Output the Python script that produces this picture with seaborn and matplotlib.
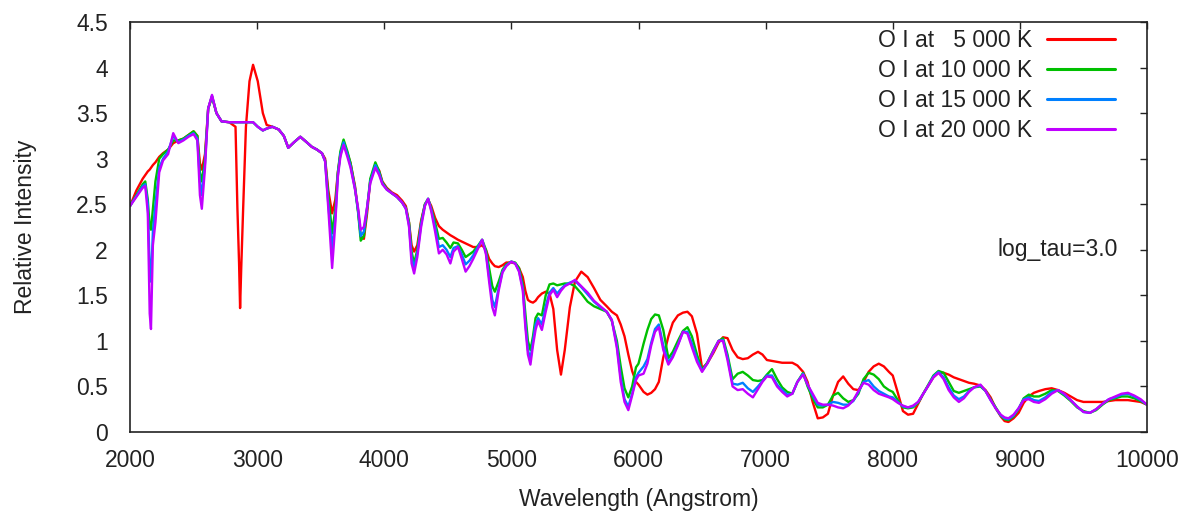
import numpy as np
import pandas as pd
import matplotlib
matplotlib.use("Agg")
import matplotlib.pyplot as plt
import seaborn as sns

# ---------------- data ----------------
wavelength = [
    # 2000-3100
    2000, 2050, 2100, 2120, 2140, 2155, 2165, 2180, 2200, 2230, 2260, 2300, 2340, 2380, 2420, 2460, 2500, 2530, 2550,
    2565, 2590, 2615, 2645, 2680, 2720, 2780, 2830, 2845, 2858, 2866, 2875, 2890, 2912, 2940, 2968, 3005, 3045, 3075,
    # 3100-4100
    3120, 3170, 3210, 3245, 3290, 3340, 3390, 3430, 3470, 3510, 3535, 3560, 3590, 3615, 3635, 3655, 3680, 3710, 3735,
    3770, 3795, 3815, 3840, 3865, 3890, 3930, 3960, 3985, 4020, 4060,
    # 4100-5000
    4100, 4140, 4170, 4195, 4215, 4235, 4260, 4290, 4320, 4345, 4370, 4400, 4430, 4460, 4490, 4520, 4545, 4580, 4610,
    4640, 4670, 4700, 4740, 4770, 4800, 4825, 4850, 4870, 4900, 4930, 4960,
    # 5000-6000
    5000, 5030, 5060, 5090, 5110, 5130, 5150, 5170, 5190, 5210, 5240, 5270, 5300, 5330, 5360, 5390, 5420, 5460, 5500,
    5550, 5600, 5650, 5700, 5750, 5790, 5830, 5860, 5890, 5920, 5950, 5980,
    # 6000-8000
    6000, 6040, 6070, 6100, 6130, 6160, 6195, 6235, 6270, 6310, 6350, 6385, 6420, 6460, 6500, 6540, 6590, 6630, 6665,
    6700, 6740, 6780, 6820, 6860, 6900, 6940, 6975, 7010, 7050, 7090, 7130, 7170, 7210, 7250, 7295, 7330, 7370, 7410,
    7450, 7490, 7530, 7570, 7610, 7650, 7690, 7730, 7770, 7810, 7850, 7890, 7930, 7970,
    # 8000-10000
    8000, 8040, 8080, 8120, 8160, 8200, 8240, 8280, 8320, 8360, 8400, 8440, 8480, 8520, 8560, 8600, 8640, 8690, 8730,
    8770, 8810, 8850, 8880, 8910, 8950, 8990, 9030, 9070, 9110, 9150, 9200, 9250, 9300, 9350, 9400, 9450, 9500, 9550,
    9600, 9650, 9700, 9750, 9800, 9850, 9900, 9950, 10000,
]

intensity_5000K = [
    2.48, 2.65, 2.78, 2.82, 2.86, 2.88, 2.90, 2.93, 2.96, 3.02, 3.06, 3.10, 3.17, 3.20, 3.22, 3.26, 3.30, 3.25, 2.95,
    2.88, 3.05, 3.55, 3.68, 3.50, 3.41, 3.40, 3.35, 2.45, 1.85, 1.36, 1.80, 2.45, 3.35, 3.85, 4.03, 3.85, 3.50, 3.37,
    3.35, 3.32, 3.25, 3.12, 3.18, 3.24, 3.18, 3.13, 3.10, 3.06, 3.00, 2.65, 2.40, 2.55, 2.85, 3.05, 3.17, 3.06, 2.95,
    2.70, 2.42, 2.15, 2.12, 2.40, 2.76, 2.93, 2.87, 2.75, 2.68, 2.63,
    2.60, 2.54, 2.48, 2.30, 2.05, 1.98, 2.05, 2.32, 2.50, 2.55, 2.48, 2.35, 2.26, 2.22, 2.19, 2.16, 2.14, 2.11, 2.09,
    2.07, 2.05, 2.03, 2.03, 2.05, 2.00, 1.90, 1.85, 1.82, 1.81, 1.83, 1.86,
    1.86, 1.85, 1.80, 1.70, 1.55, 1.45, 1.43, 1.42, 1.44, 1.48, 1.52, 1.54, 1.52, 1.35, 0.90, 0.63, 0.90, 1.37, 1.65,
    1.76, 1.70, 1.58, 1.45, 1.38, 1.32, 1.28, 1.18, 1.05, 0.85, 0.67, 0.55,
    0.52, 0.44, 0.41, 0.43, 0.47, 0.55, 0.82, 1.05, 1.20, 1.28, 1.31, 1.32, 1.27, 1.08, 0.70, 0.75, 0.87, 0.98, 1.04,
    1.03, 0.90, 0.82, 0.80, 0.81, 0.85, 0.88, 0.85, 0.79, 0.78, 0.77, 0.76, 0.76, 0.76, 0.73, 0.66, 0.55, 0.33, 0.15,
    0.16, 0.20, 0.40, 0.55, 0.61, 0.53, 0.47, 0.46, 0.55, 0.66, 0.72, 0.75, 0.72, 0.66,
    0.62, 0.43, 0.23, 0.19, 0.20, 0.31, 0.42, 0.51, 0.60, 0.65, 0.65, 0.63, 0.60, 0.58, 0.56, 0.54, 0.53, 0.51, 0.46,
    0.38, 0.26, 0.17, 0.12, 0.11, 0.15, 0.21, 0.32, 0.39, 0.43, 0.45, 0.47, 0.48, 0.46, 0.43, 0.39, 0.35, 0.33, 0.33,
    0.33, 0.33, 0.34, 0.35, 0.35, 0.35, 0.34, 0.33, 0.30,
]

intensity_10000K = [
    2.48, 2.60, 2.72, 2.75, 2.55, 2.25, 2.22, 2.45, 2.75, 3.00, 3.05, 3.10, 3.20, 3.20, 3.22, 3.26, 3.30, 3.25, 2.85,
    2.75, 3.00, 3.55, 3.68, 3.50, 3.41, 3.40, 3.40, 3.40, 3.40, 3.40, 3.40, 3.40, 3.40, 3.40, 3.40, 3.35, 3.31, 3.33,
    3.35, 3.32, 3.25, 3.12, 3.18, 3.24, 3.18, 3.13, 3.10, 3.06, 2.98, 2.60, 2.18, 2.45, 2.85, 3.08, 3.21, 3.08, 2.95,
    2.68, 2.40, 2.10, 2.15, 2.45, 2.78, 2.96, 2.86, 2.74, 2.67, 2.62,
    2.58, 2.52, 2.46, 2.30, 1.98, 1.85, 2.00, 2.30, 2.50, 2.56, 2.45, 2.30, 2.12, 2.13, 2.08, 2.02, 2.08, 2.07, 2.00,
    1.92, 1.95, 1.98, 2.05, 2.11, 2.00, 1.80, 1.60, 1.54, 1.65, 1.78, 1.84,
    1.87, 1.86, 1.80, 1.62, 1.30, 1.00, 0.90, 1.05, 1.25, 1.30, 1.28, 1.50, 1.62, 1.63, 1.61, 1.62, 1.63, 1.63, 1.60,
    1.52, 1.43, 1.38, 1.35, 1.32, 1.22, 1.00, 0.72, 0.48, 0.38, 0.50, 0.71,
    0.75, 0.97, 1.12, 1.24, 1.29, 1.28, 1.12, 0.81, 0.88, 1.00, 1.11, 1.15, 1.05, 0.85, 0.68, 0.76, 0.90, 1.00, 1.03,
    0.85, 0.58, 0.64, 0.66, 0.62, 0.57, 0.56, 0.57, 0.63, 0.69, 0.58, 0.49, 0.44, 0.42, 0.55, 0.65, 0.50, 0.37, 0.27,
    0.27, 0.30, 0.40, 0.43, 0.37, 0.33, 0.35, 0.42, 0.58, 0.65, 0.63, 0.58, 0.50, 0.46,
    0.44, 0.35, 0.27, 0.26, 0.27, 0.32, 0.42, 0.52, 0.62, 0.67, 0.65, 0.55, 0.45, 0.43, 0.45, 0.47, 0.49, 0.50, 0.45,
    0.36, 0.27, 0.18, 0.14, 0.13, 0.17, 0.25, 0.37, 0.41, 0.39, 0.39, 0.42, 0.46, 0.45, 0.40, 0.34, 0.27, 0.23, 0.21,
    0.24, 0.30, 0.35, 0.37, 0.39, 0.39, 0.37, 0.34, 0.30,
]

intensity_15000K = [
    2.48, 2.59, 2.70, 2.72, 2.50, 1.80, 1.65, 2.20, 2.50, 2.90, 3.00, 3.08, 3.25, 3.18, 3.21, 3.25, 3.28, 3.22, 2.75,
    2.60, 2.95, 3.55, 3.69, 3.50, 3.41, 3.40, 3.40, 3.40, 3.40, 3.40, 3.40, 3.40, 3.40, 3.40, 3.40, 3.35, 3.31, 3.33,
    3.35, 3.32, 3.25, 3.12, 3.18, 3.24, 3.18, 3.13, 3.10, 3.06, 2.97, 2.50, 2.00, 2.35, 2.82, 3.05, 3.18, 3.05, 2.92,
    2.67, 2.42, 2.15, 2.20, 2.46, 2.75, 2.93, 2.84, 2.73, 2.66, 2.62,
    2.58, 2.52, 2.45, 2.27, 1.92, 1.80, 1.96, 2.28, 2.49, 2.56, 2.44, 2.25, 2.03, 2.05, 2.00, 1.92, 2.02, 2.04, 1.95,
    1.84, 1.88, 1.94, 2.04, 2.11, 1.97, 1.70, 1.45, 1.37, 1.58, 1.76, 1.83,
    1.87, 1.85, 1.77, 1.58, 1.20, 0.90, 0.80, 1.00, 1.18, 1.25, 1.18, 1.38, 1.53, 1.58, 1.52, 1.57, 1.61, 1.64, 1.66,
    1.59, 1.51, 1.43, 1.37, 1.32, 1.23, 0.95, 0.60, 0.36, 0.28, 0.42, 0.60,
    0.65, 0.72, 0.80, 0.98, 1.13, 1.18, 0.95, 0.76, 0.84, 0.96, 1.10, 1.10, 0.97, 0.80, 0.67, 0.75, 0.89, 1.00, 1.01,
    0.82, 0.53, 0.52, 0.54, 0.48, 0.44, 0.50, 0.56, 0.62, 0.62, 0.52, 0.46, 0.41, 0.42, 0.55, 0.64, 0.52, 0.40, 0.30,
    0.29, 0.30, 0.33, 0.32, 0.30, 0.30, 0.34, 0.44, 0.55, 0.57, 0.50, 0.45, 0.42, 0.39,
    0.38, 0.33, 0.28, 0.27, 0.28, 0.33, 0.42, 0.51, 0.61, 0.66, 0.60, 0.49, 0.40, 0.36, 0.39, 0.45, 0.49, 0.51, 0.45,
    0.35, 0.26, 0.18, 0.15, 0.14, 0.18, 0.26, 0.36, 0.38, 0.35, 0.34, 0.38, 0.44, 0.46, 0.41, 0.35, 0.28, 0.22, 0.21,
    0.25, 0.31, 0.36, 0.38, 0.41, 0.42, 0.39, 0.35, 0.30,
]

intensity_20000K = [
    2.48, 2.58, 2.68, 2.70, 2.40, 1.30, 1.13, 2.05, 2.30, 2.85, 2.98, 3.05, 3.28, 3.17, 3.20, 3.24, 3.27, 3.20, 2.60,
    2.45, 2.90, 3.55, 3.70, 3.50, 3.41, 3.40, 3.40, 3.40, 3.40, 3.40, 3.40, 3.40, 3.40, 3.40, 3.40, 3.35, 3.31, 3.33,
    3.35, 3.32, 3.25, 3.12, 3.18, 3.24, 3.18, 3.13, 3.10, 3.06, 2.97, 2.45, 1.80, 2.29, 2.80, 3.02, 3.15, 3.02, 2.90,
    2.66, 2.45, 2.22, 2.25, 2.47, 2.73, 2.90, 2.82, 2.72, 2.66, 2.62,
    2.58, 2.52, 2.45, 2.25, 1.85, 1.74, 1.92, 2.25, 2.48, 2.56, 2.42, 2.20, 1.96, 2.00, 1.95, 1.85, 1.98, 2.03, 1.90,
    1.76, 1.82, 1.90, 2.02, 2.11, 1.95, 1.65, 1.37, 1.28, 1.55, 1.75, 1.82,
    1.87, 1.85, 1.76, 1.55, 1.15, 0.85, 0.74, 0.95, 1.12, 1.22, 1.12, 1.32, 1.50, 1.56, 1.48, 1.55, 1.60, 1.63, 1.67,
    1.60, 1.53, 1.44, 1.38, 1.32, 1.23, 0.92, 0.55, 0.33, 0.24, 0.40, 0.57,
    0.62, 0.64, 0.75, 0.95, 1.10, 1.15, 0.90, 0.74, 0.82, 0.95, 1.10, 1.08, 0.93, 0.77, 0.66, 0.75, 0.89, 1.00, 1.00,
    0.79, 0.50, 0.46, 0.47, 0.42, 0.38, 0.47, 0.55, 0.61, 0.60, 0.50, 0.44, 0.39, 0.42, 0.55, 0.63, 0.52, 0.42, 0.32,
    0.30, 0.30, 0.29, 0.27, 0.26, 0.29, 0.35, 0.45, 0.54, 0.52, 0.46, 0.42, 0.40, 0.38,
    0.36, 0.32, 0.29, 0.27, 0.29, 0.33, 0.42, 0.51, 0.60, 0.65, 0.58, 0.46, 0.38, 0.33, 0.37, 0.44, 0.49, 0.52, 0.45,
    0.35, 0.26, 0.19, 0.16, 0.15, 0.19, 0.26, 0.35, 0.36, 0.33, 0.32, 0.36, 0.42, 0.46, 0.42, 0.35, 0.28, 0.22, 0.21,
    0.25, 0.31, 0.36, 0.39, 0.42, 0.43, 0.40, 0.36, 0.30,
]

series_labels = ["O I at \u20075 000 K", "O I at 10 000 K", "O I at 15 000 K", "O I at 20 000 K"]
series_colors = ["#ff0000", "#00c000", "#0080ff", "#c000ff"]
x_ticks = [2000, 3000, 4000, 5000, 6000, 7000, 8000, 9000, 10000]
y_ticks = [0, 0.5, 1, 1.5, 2, 2.5, 3, 3.5, 4, 4.5]
y_tick_labels = ["0", "0.5", "1", "1.5", "2", "2.5", "3", "3.5", "4", "4.5"]
annotation = "log_tau=3.0"

# ---------------- build long table ----------------
all_series = [intensity_5000K, intensity_10000K, intensity_15000K, intensity_20000K]
frames = []
for lab, vals in zip(series_labels, all_series):
    frames.append(pd.DataFrame({"wavelength": wavelength, "intensity": vals, "series": lab}))
df = pd.concat(frames, ignore_index=True)

# ---------------- style ----------------
sns.set_theme(style="white")
plt.rcParams["font.family"] = ["Liberation Sans", "DejaVu Sans"]
text_color = "#222222"
plt.rcParams.update({
    "text.color": text_color,
    "axes.labelcolor": text_color,
    "xtick.color": text_color,
    "ytick.color": text_color,
    "xtick.labelcolor": text_color,
    "ytick.labelcolor": text_color,
})
FS = 16.5

fig = plt.figure(figsize=(11.94, 5.18), dpi=100)
ax = fig.add_axes([130 / 1194, 1 - 432 / 518, (1147 - 130) / 1194, (432 - 22) / 518])

sns.lineplot(data=df, x="wavelength", y="intensity", hue="series",
             hue_order=series_labels, palette=series_colors,
             estimator=None, sort=False, linewidth=1.7, ax=ax, legend=False)

ax.set_xlim(2000, 10000)
ax.set_ylim(0, 4.5)
ax.set_xticks(x_ticks)
ax.set_yticks(y_ticks)
ax.set_yticklabels(y_tick_labels)
ax.tick_params(axis="both", direction="in", length=5, width=1.0,
               top=True, right=True, labelsize=FS, color="#222222")
ax.tick_params(axis="y", pad=16)
ax.tick_params(axis="x", pad=12)
for sp in ax.spines.values():
    sp.set_visible(True)
    sp.set_color("#222222")
    sp.set_linewidth(1.2)

ax.set_xlabel("Wavelength (Angstrom)", fontsize=FS, labelpad=12)
ax.set_ylabel("Relative Intensity", fontsize=FS, labelpad=28)

ax.text(9770, 2.0, annotation, ha="right", va="center", fontsize=FS, color=text_color)

handles = [plt.Line2D([], [], color=c, linewidth=2.2) for c in series_colors]
leg = ax.legend(handles, series_labels, loc="upper right", frameon=False,
                markerfirst=False, fontsize=FS, handlelength=2.95,
                handletextpad=0.65, labelspacing=0.3, borderpad=0.0,
                bbox_to_anchor=((1115 - 130) / 1017, 1 - 7 / 410), borderaxespad=0.0)

fig.savefig("out.png", dpi=100)
